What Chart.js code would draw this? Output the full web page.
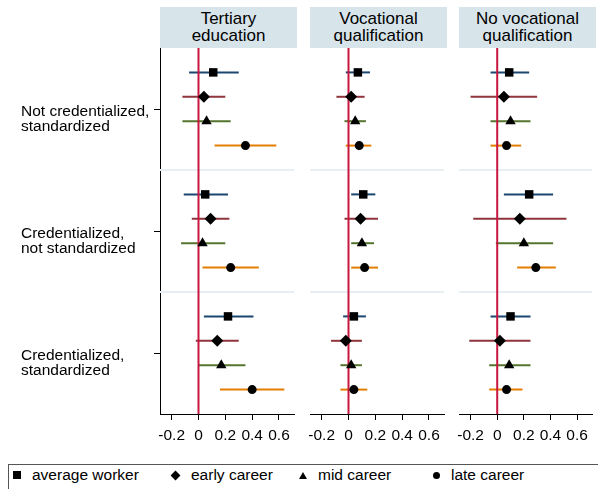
<!DOCTYPE html>
<html>
<head>
<meta charset="utf-8">
<script src="https://cdn.jsdelivr.net/npm/chart.js@4.4.1/dist/chart.umd.min.js"></script>
<style>
  body { margin: 0; background: #fff; }
  #fig { position: relative; width: 598px; height: 489px; overflow: hidden; background: #fff;
         font-family: "Liberation Sans", Arial, sans-serif; color: #000; }
  #fig canvas { position: absolute; top: 0; }
  .strip { position: absolute; top: 7px; height: 41px; width: 137px; background: #d7e4ea;
           display: flex; align-items: center; justify-content: center; text-align: center;
           font-size: 17px; line-height: 16.7px; }
  #legendBox { position: absolute; left: 8px; top: 464px; width: 620px; height: 40px; border: 1px solid #555; }
  .leg-item { position: absolute; top: 465px; height: 20px; display: flex; align-items: center; font-size: 15.5px; }
  .leg-item span.txt { margin-left: 11px; }
  .mk-square { width: 8px; height: 8px; background: #000; }
  .mk-diamond { width: 7px; height: 7px; background: #000; transform: rotate(45deg); margin: 0 1.5px; }
  .mk-triangle { width: 0; height: 0; border-left: 4px solid transparent; border-right: 4px solid transparent; border-bottom: 7px solid #000; }
  .mk-circle { width: 7px; height: 7px; background: #000; border-radius: 50%; }
</style>
</head>
<body>
<div id="fig">
  <div id="legendBox"></div>
</div>
<script>
// ---- data ----
const panelTitles = [['Tertiary', 'education'], ['Vocational', 'qualification'], ['No vocational', 'qualification']];
const groupLabels = [['Not credentialized,', 'standardized'], ['Credentialized,', 'not standardized'], ['Credentialized,', 'standardized']];
const seriesNames = ['average worker', 'early career', 'mid career', 'late career'];
const xTicks = [-0.2, 0, 0.2, 0.4, 0.6];
const xTickLabels = ['-0.2', '0', '0.2', '0.4', '0.6'];

// rows = series (average, early, mid, late), cols = groups
const tertiaryEst = [[0.11, 0.05, 0.22], [0.04, 0.09, 0.14], [0.06, 0.03, 0.17], [0.35, 0.24, 0.40]];
const tertiaryLo  = [[-0.07, -0.11, 0.04], [-0.12, -0.05, -0.02], [-0.12, -0.13, 0.00], [0.12, 0.03, 0.16]];
const tertiaryHi  = [[0.30, 0.22, 0.41], [0.20, 0.23, 0.30], [0.24, 0.20, 0.35], [0.58, 0.45, 0.64]];

const vocationalEst = [[0.07, 0.11, 0.04], [0.02, 0.09, -0.02], [0.05, 0.10, 0.02], [0.08, 0.12, 0.04]];
const vocationalLo  = [[-0.02, 0.02, -0.04], [-0.09, -0.03, -0.13], [-0.03, 0.02, -0.06], [-0.02, 0.02, -0.06]];
const vocationalHi  = [[0.16, 0.20, 0.13], [0.12, 0.22, 0.10], [0.13, 0.19, 0.10], [0.17, 0.22, 0.14]];

const noVocEst = [[0.09, 0.24, 0.10], [0.05, 0.17, 0.02], [0.10, 0.20, 0.09], [0.07, 0.29, 0.07]];
const noVocLo  = [[-0.05, 0.05, -0.05], [-0.20, -0.18, -0.21], [-0.05, -0.01, -0.06], [-0.05, 0.15, -0.06]];
const noVocHi  = [[0.24, 0.42, 0.25], [0.30, 0.52, 0.25], [0.25, 0.42, 0.25], [0.18, 0.44, 0.19]];

// ---- styling ----
const ciColors = ['#1a476f', '#90353b', '#55752f', '#e37e00'];
const markerStyles = ['rect', 'rectRot', 'triangle', 'circle'];
const markerRadius = [6, 6, 6, 4.5];
const legendMarkers = ['mk-square', 'mk-diamond', 'mk-triangle', 'mk-circle'];
const fontFamily = '"Liberation Sans", Arial, sans-serif';

// each group takes 5 slots on the y scale: 4 rows + gap
const rowPos = (g, k) => 5 * g + 1 + k;
const groupCenters = groupLabels.map((_, g) => 5 * g + 2.5);
const groupBreaks = [5, 10];

// separators, confidence intervals and the zero line
const ciPlugin = {
  id: 'ciPlugin',
  beforeDatasetsDraw(chart) {
    const { ctx, chartArea: a, scales: { x, y } } = chart;
    ctx.save();
    ctx.lineCap = 'butt';
    ctx.strokeStyle = '#e8eff2';
    ctx.lineWidth = 2;
    groupBreaks.forEach(v => {
      const py = y.getPixelForValue(v);
      ctx.beginPath(); ctx.moveTo(a.left, py); ctx.lineTo(a.right, py); ctx.stroke();
    });
    chart.data.datasets.forEach(ds => {
      ctx.strokeStyle = ds.ciColor;
      ctx.lineWidth = 2;
      ds.data.forEach((p, j) => {
        const py = y.getPixelForValue(p.y);
        ctx.beginPath();
        ctx.moveTo(x.getPixelForValue(ds.lo[j]), py);
        ctx.lineTo(x.getPixelForValue(ds.hi[j]), py);
        ctx.stroke();
      });
    });
    const px = x.getPixelForValue(0);
    ctx.strokeStyle = '#c8163e';
    ctx.lineWidth = 2;
    ctx.beginPath(); ctx.moveTo(px, a.top); ctx.lineTo(px, a.bottom); ctx.stroke();
    ctx.restore();
  }
};

const panels = [
  { est: tertiaryEst, lo: tertiaryLo, hi: tertiaryHi, left: 0, width: 300, pad: [21, 3], showY: true },
  { est: vocationalEst, lo: vocationalLo, hi: vocationalHi, left: 300, width: 150, pad: [10, 3], showY: false },
  { est: noVocEst, lo: noVocLo, hi: noVocHi, left: 449, width: 149, pad: [10, 2], showY: false }
];

const fig = document.getElementById('fig');

panels.forEach((p, i) => {
  const canvas = document.createElement('canvas');
  canvas.width = p.width;
  canvas.height = 450;
  canvas.style.left = p.left + 'px';
  fig.appendChild(canvas);

  const strip = document.createElement('div');
  strip.className = 'strip';
  strip.style.left = (p.left + p.pad[0] + (p.showY ? 139 : 0)) + 'px';
  strip.innerHTML = panelTitles[i].join('<br>');
  fig.appendChild(strip);

  new Chart(canvas.getContext('2d'), {
    type: 'scatter',
    data: {
      datasets: seriesNames.map((name, s) => ({
        label: name,
        data: p.est[s].map((v, g) => ({ x: v, y: rowPos(g, s) })),
        lo: p.lo[s],
        hi: p.hi[s],
        ciColor: ciColors[s],
        pointStyle: markerStyles[s],
        pointRadius: markerRadius[s],
        backgroundColor: '#000',
        borderColor: '#000',
        borderWidth: 0
      }))
    },
    options: {
      responsive: false,
      animation: false,
      devicePixelRatio: 1,
      events: [],
      layout: { padding: { left: p.pad[0], right: p.pad[1], top: 48, bottom: 0 } },
      plugins: { legend: { display: false }, tooltip: { enabled: false } },
      scales: {
        x: {
          type: 'linear',
          min: -0.287,
          max: 0.712,
          afterBuildTicks: s => { s.ticks = xTicks.map(v => ({ value: v })); },
          afterFit: s => { s.height = 36; },
          grid: { drawOnChartArea: false, tickLength: 6, tickColor: '#000', tickWidth: 1 },
          border: { display: true, color: '#000', width: 1 },
          ticks: {
            autoSkip: false, maxRotation: 0, minRotation: 0, padding: 6, color: '#000',
            font: { family: fontFamily, size: 15.5 },
            callback: (v, idx) => xTickLabels[idx]
          }
        },
        y: {
          type: 'linear',
          display: p.showY,
          reverse: true,
          min: 0,
          max: 15,
          afterBuildTicks: s => { s.ticks = groupCenters.map(v => ({ value: v })); },
          afterFit: s => { s.width = p.showY ? 139 : 0; },
          grid: { drawOnChartArea: false, tickLength: 6, tickColor: '#000', tickWidth: 1 },
          border: { display: true, color: '#000', width: 1 },
          ticks: {
            crossAlign: 'far', padding: 3, labelOffset: 10, color: '#000',
            font: { family: fontFamily, size: 15.5, lineHeight: 1 },
            callback: (v, idx) => groupLabels[idx]
          }
        }
      }
    },
    plugins: [ciPlugin]
  });
});

// legend along the bottom
const legendLeft = [13, 170, 299, 433];
seriesNames.forEach((name, s) => {
  const item = document.createElement('div');
  item.className = 'leg-item';
  item.style.left = legendLeft[s] + 'px';
  item.innerHTML = '<span class="' + legendMarkers[s] + '"></span><span class="txt">' + name + '</span>';
  fig.appendChild(item);
});
</script>
</body>
</html>
